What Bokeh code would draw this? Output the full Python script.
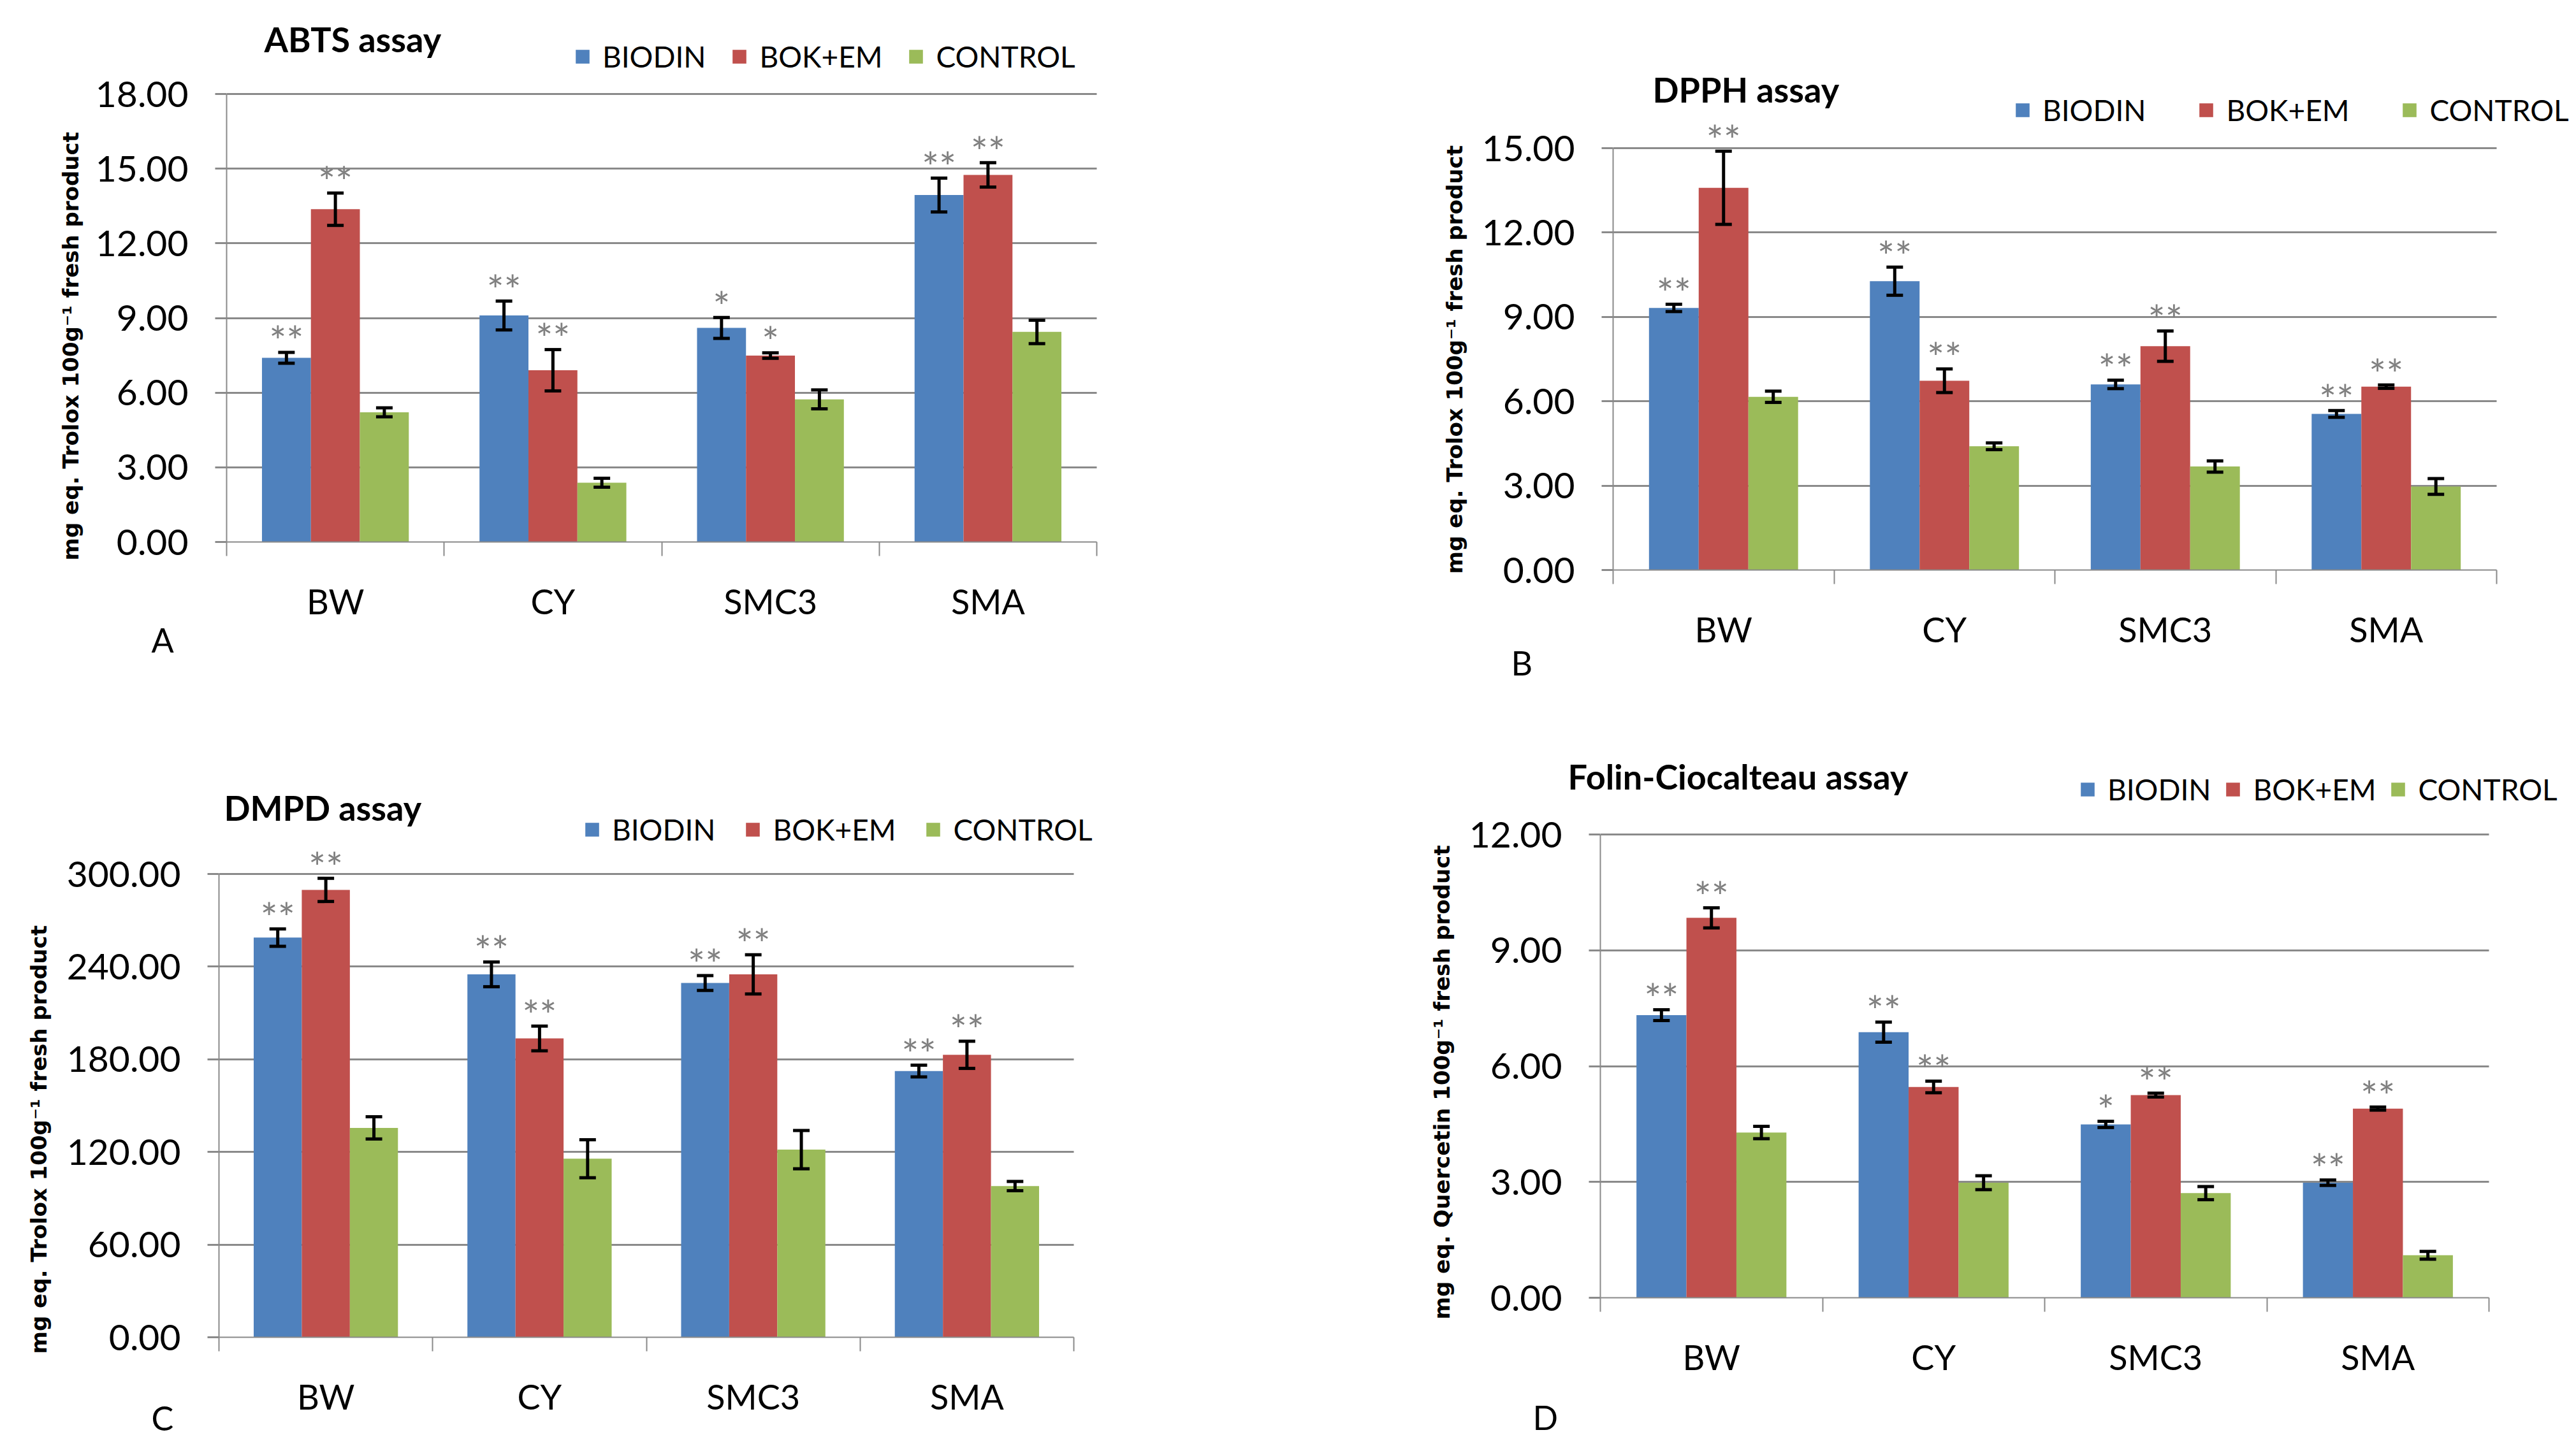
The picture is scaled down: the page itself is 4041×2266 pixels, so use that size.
import numpy as np
from bokeh.plotting import figure
from bokeh.models import (ColumnDataSource, Range1d, FixedTicker, NumeralTickFormatter,
                          Whisker, TeeHead, Legend, LegendItem, Title, Label)
from bokeh.layouts import column, row
from bokeh.embed import file_html
from bokeh.resources import INLINE
from bokeh.core.properties import value

# ---------------- data ----------------
categories = ["BW", "CY", "SMC3", "SMA"]
series = ["BIODIN", "BOK+EM", "CONTROL"]
colors = ["#4F81BD", "#C0504D", "#9BBB59"]

# A: ABTS assay
abts_biodin = [7.40, 9.10, 8.60, 13.94]
abts_biodin_err = [0.22, 0.58, 0.42, 0.68]
abts_bokem = [13.37, 6.90, 7.49, 14.75]
abts_bokem_err = [0.65, 0.83, 0.11, 0.49]
abts_control = [5.21, 2.38, 5.73, 8.44]
abts_control_err = [0.18, 0.18, 0.38, 0.47]
abts_biodin_sig = ["**", "**", "*", "**"]
abts_bokem_sig = ["**", "**", "*", "**"]
abts_ticks = [0, 3, 6, 9, 12, 15, 18]

# B: DPPH assay
dpph_biodin = [9.32, 10.27, 6.60, 5.55]
dpph_biodin_err = [0.13, 0.50, 0.15, 0.12]
dpph_bokem = [13.59, 6.73, 7.96, 6.52]
dpph_bokem_err = [1.30, 0.42, 0.54, 0.06]
dpph_control = [6.16, 4.40, 3.68, 2.97]
dpph_control_err = [0.20, 0.12, 0.20, 0.28]
dpph_biodin_sig = ["**", "**", "**", "**"]
dpph_bokem_sig = ["**", "**", "**", "**"]
dpph_ticks = [0, 3, 6, 9, 12, 15]

# C: DMPD assay
dmpd_biodin = [258.8, 235.0, 229.4, 172.4]
dmpd_biodin_err = [5.6, 8.0, 4.8, 3.8]
dmpd_bokem = [289.7, 193.5, 235.0, 182.9]
dmpd_bokem_err = [7.5, 8.0, 12.7, 8.8]
dmpd_control = [135.6, 115.6, 121.5, 97.9]
dmpd_control_err = [7.2, 12.3, 12.4, 3.0]
dmpd_biodin_sig = ["**", "**", "**", "**"]
dmpd_bokem_sig = ["**", "**", "**", "**"]
dmpd_ticks = [0, 60, 120, 180, 240, 300]

# D: Folin-Ciocalteau assay
folin_biodin = [7.32, 6.88, 4.49, 2.98]
folin_biodin_err = [0.14, 0.26, 0.08, 0.07]
folin_bokem = [9.84, 5.46, 5.25, 4.90]
folin_bokem_err = [0.26, 0.15, 0.05, 0.04]
folin_control = [4.28, 2.98, 2.71, 1.10]
folin_control_err = [0.16, 0.18, 0.17, 0.10]
folin_biodin_sig = ["**", "**", "*", "**"]
folin_bokem_sig = ["**", "**", "**", "**"]
folin_ticks = [0, 3, 6, 9, 12]

ylab_trolox = "mg eq. Trolox 100g\u207b\u00b9 fresh product"
ylab_querc = "mg eq. Quercetin 100g\u207b\u00b9 fresh product"

GRID = "#8a8a8a"
FONT = "Lato"
NCAT = len(categories)


def make_panel(title, letter, ylab, ticks, vals, errs, sigs, frame, origin, size,
               frame_top, frame_right, title_mode, title_pos, letter_cfg,
               ylab_off, ylab_standoff, legend_loc, legend_spacing):
    L, R, T, B = frame          # page pixels: axis origin / end of last category / top tick / zero
    ox, oy = origin
    W, H = size
    ymax = ticks[-1]
    y_end = ymax + (T - frame_top) * ymax / (B - T)

    grid_probe = figure(output_backend="svg").ygrid[0]
    can_cross = hasattr(grid_probe, "cross_bounds")
    if not can_cross:
        frame_right = R
    x_end = NCAT + NCAT * (frame_right - R) / (R - L)

    p = figure(width=W, height=H, x_range=Range1d(0, x_end),
               y_range=Range1d(0, y_end), output_backend="svg",
               toolbar_location=None, title_location=None,
               min_border_left=L - ox, min_border_right=ox + W - frame_right,
               min_border_top=frame_top - oy, min_border_bottom=oy + H - B)
    p.outline_line_color = None
    p.xgrid.visible = False
    p.ygrid.ticker = FixedTicker(ticks=ticks)
    p.ygrid.grid_line_color = GRID
    p.ygrid.grid_line_width = 3
    if can_cross:
        p.ygrid.cross_bounds = (0, NCAT)

    # y axis
    p.yaxis.ticker = FixedTicker(ticks=ticks)
    p.yaxis.bounds = (0, ymax)
    p.yaxis.formatter = NumeralTickFormatter(format="0.00")
    p.yaxis.axis_line_color = GRID
    p.yaxis.axis_line_width = 2
    p.yaxis.major_tick_line_color = GRID
    p.yaxis.major_tick_line_width = 3
    p.yaxis.major_tick_out = 18
    p.yaxis.major_tick_in = 0
    p.yaxis.minor_tick_line_color = None
    p.yaxis.major_label_text_font = FONT
    p.yaxis.major_label_text_font_size = "57px"
    p.yaxis.major_label_text_color = "black"
    p.yaxis.major_label_standoff = 42

    # x axis (categories centred, ticks at boundaries)
    centers = [i + 0.5 for i in range(NCAT)]
    p.xaxis.ticker = FixedTicker(ticks=centers, minor_ticks=list(range(NCAT + 1)))
    p.xaxis.bounds = (0, NCAT)
    p.xaxis.major_label_overrides = {c: cat for c, cat in zip(centers, categories)}
    p.xaxis.axis_line_color = GRID
    p.xaxis.axis_line_width = 2
    p.xaxis.major_tick_line_color = None
    p.xaxis.major_tick_out = 0
    p.xaxis.major_tick_in = 0
    p.xaxis.minor_tick_line_color = GRID
    p.xaxis.minor_tick_line_width = 2
    p.xaxis.minor_tick_out = 22
    p.xaxis.minor_tick_in = 0
    p.xaxis.major_label_text_font = FONT
    p.xaxis.major_label_text_font_size = "54px"
    p.xaxis.major_label_text_color = "black"
    p.xaxis.major_label_standoff = 38

    bw = 0.225
    renderers = []
    for k in range(3):
        xs = [c + (k - 1) * bw for c in centers]
        top = vals[k]
        err = errs[k]
        src = ColumnDataSource(dict(
            x=xs, top=top,
            upper=[t + e for t, e in zip(top, err)],
            lower=[t - e for t, e in zip(top, err)],
            sig=sigs[k]))
        r = p.vbar(x="x", top="top", bottom=0, width=bw, source=src,
                   fill_color=colors[k], line_color=None)
        renderers.append(r)
        p.add_layout(Whisker(source=src, base="x", upper="upper", lower="lower",
                             level="overlay", line_color="black", line_width=5,
                             upper_head=TeeHead(size=26, line_width=5, line_color="black"),
                             lower_head=TeeHead(size=26, line_width=5, line_color="black")))
        p.text(x="x", y="upper", text="sig", source=src, text_font=value(FONT),
               text_font_size="64px", text_color="#808080", text_align="center",
               text_baseline="alphabetic", y_offset=-18)

    leg = Legend(items=[LegendItem(label=series[k], renderers=[renderers[k]])
                        for k in range(3)],
                 location=legend_loc, orientation="horizontal",
                 glyph_width=27, glyph_height=27, label_standoff=18,
                 label_text_font=FONT, label_text_font_size="46px",
                 label_text_color="black", padding=0, margin=0,
                 spacing=legend_spacing,
                 border_line_color=None, background_fill_alpha=0)
    p.add_layout(leg)

    if title_mode == "label":
        p.add_layout(Label(x=title_pos[0], y=title_pos[1], x_units="screen",
                           y_units="screen", text=title, text_font=FONT,
                           text_font_style="bold", text_font_size="54px",
                           text_align="left", text_baseline="middle",
                           text_color="black"))
    else:
        p.add_layout(Title(text=title, align="left", offset=title_pos[0],
                           standoff=title_pos[1], vertical_align="bottom",
                           text_font=FONT, text_font_style="bold",
                           text_font_size="54px", text_color="black"), "above")

    l_off, l_valign, l_standoff = letter_cfg
    p.add_layout(Title(text=letter, align="left", offset=l_off,
                       standoff=l_standoff, vertical_align=l_valign,
                       text_font=FONT, text_font_style="normal",
                       text_font_size="52px", text_color="black"), "below")
    p.add_layout(Title(text=ylab, align="left", offset=ylab_off,
                       standoff=ylab_standoff, vertical_align="middle",
                       text_font="DejaVu Sans", text_font_style="bold",
                       text_font_size="34px", text_color="black"), "left")
    return p


W1, W2 = 2040, 2000
H1, H2 = 1134, 1132

pA = make_panel("ABTS assay", "A", ylab_trolox, abts_ticks,
                [abts_biodin, abts_bokem, abts_control],
                [abts_biodin_err, abts_bokem_err, abts_control_err],
                [abts_biodin_sig, abts_bokem_sig, [""] * 4],
                (355, 1720, 147, 850), (0, 0), (W1, H1), 20, 2036,
                "label", (59, 789), (-118, "bottom", -112), -29, 30, (545, 734), 39)

pB = make_panel("DPPH assay", "B", ylab_trolox, dpph_ticks,
                [dpph_biodin, dpph_bokem, dpph_control],
                [dpph_biodin_err, dpph_bokem_err, dpph_control_err],
                [dpph_biodin_sig, dpph_bokem_sig, [""] * 4],
                (2530, 3916, 232, 894), (W1, 0), (W2, H1), 90, 4036,
                "label", (62, 754), (-160, "bottom", -96), -6, 37, (629, 694), 81)

pC = make_panel("DMPD assay", "C", ylab_trolox, dmpd_ticks,
                [dmpd_biodin, dmpd_bokem, dmpd_control],
                [dmpd_biodin_err, dmpd_bokem_err, dmpd_control_err],
                [dmpd_biodin_sig, dmpd_bokem_sig, [""] * 4],
                (343, 1684, 1371, 2098), (0, H1), (W1, H2), 1215, 2036,
                "label", (8, 831), (-106, "top", -66), -26, 39, (572, 769), 45)

pD = make_panel("Folin-Ciocalteau assay", "D", ylab_querc, folin_ticks,
                [folin_biodin, folin_bokem, folin_control],
                [folin_biodin_err, folin_bokem_err, folin_control_err],
                [folin_biodin_sig, folin_bokem_sig, [""] * 4],
                (2510, 3904, 1309, 2036), (W1, H1), (W2, H2), 1195, 4036,
                "title", (-51, -111), (-106, "bottom", -180), -34, 37, (751, 770), 21)

layout = column(row(column(pA), column(pB)), row(column(pC), column(pD)))
open("out.html", "w").write(file_html(layout, INLINE))
